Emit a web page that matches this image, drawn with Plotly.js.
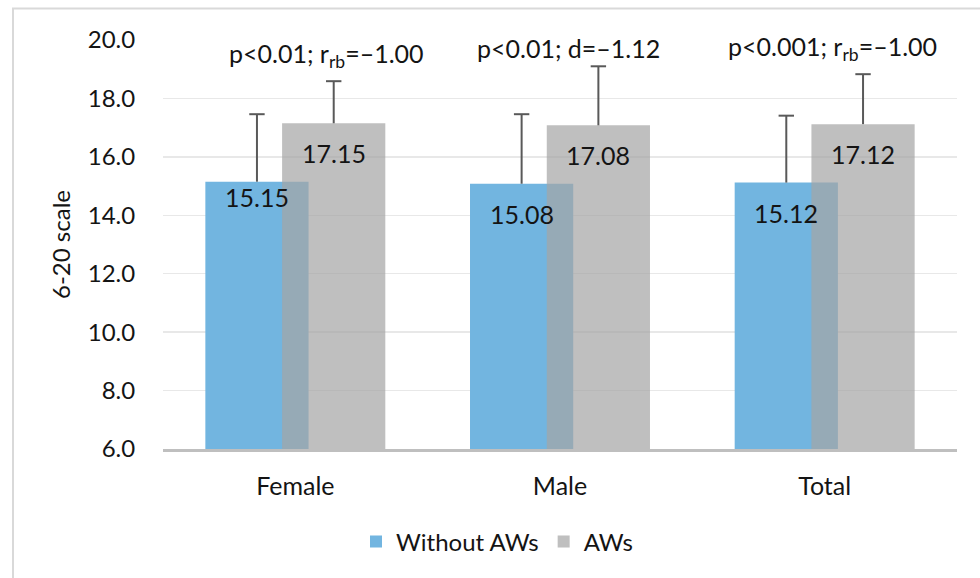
<!DOCTYPE html>
<html>
<head>
<meta charset="utf-8">
<script src="https://cdn.plot.ly/plotly-3.0.1.min.js"></script>
<style>
  html, body { margin: 0; padding: 0; background: #ffffff; }
  #chart { width: 980px; height: 578px; }
</style>
</head>
<body>
<div id="chart"></div>
<script>
// ---- data ----
const categories = ['Female', 'Male', 'Total'];
const withoutAWs = [15.15, 15.08, 15.12];
const withAWs = [17.15, 17.08, 17.12];
const withoutAWsErr = [2.31, 2.38, 2.29];
const withAWsErr = [1.44, 2.02, 1.71];
const seriesNames = ['Without AWs', 'AWs'];
const statLabels = [
  'p<0.01; r<sub>rb</sub>=\u20131.00',
  'p<0.01; d=\u20131.12',
  'p<0.001; r<sub>rb</sub>=\u20131.00'
];
const yTitle = '6-20 scale';

// ---- layout constants ----
const W = 980, H = 578;
const M = { l: 163, r: 23, t: 40, b: 129 };
const plotW = W - M.l - M.r, plotH = H - M.t - M.b;
const barW = 0.39;
const shift = 0.145;
const FONT = 'Lato, "Open Sans", sans-serif';
const TXT = '#141414';
const ERR = '#595959';

const idx = categories.map((c, i) => i);
const xBlue = idx.map(i => i - shift);
const xGray = idx.map(i => i + shift);

const traces = [
  {
    type: 'bar', name: seriesNames[0], x: idx, y: withoutAWs,
    width: barW, offset: -shift - barW / 2,
    marker: { color: 'rgb(114,181,224)', line: { width: 0 } },
    error_y: { type: 'data', symmetric: false, array: withoutAWsErr, arrayminus: withoutAWs.map(() => 0),
               color: ERR, thickness: 2, width: 0 },
    hoverinfo: 'skip'
  },
  {
    type: 'scatter', mode: 'markers', x: xBlue, y: withoutAWs.map((v, i) => v + withoutAWsErr[i]),
    marker: { symbol: 'line-ew', size: 11, line: { color: ERR, width: 2 } },
    showlegend: false, hoverinfo: 'skip', cliponaxis: false
  },
  {
    type: 'bar', name: seriesNames[1], x: idx, y: withAWs,
    width: barW, offset: shift - barW / 2,
    marker: { color: 'rgba(165,165,165,0.71)', line: { width: 0 } },
    error_y: { type: 'data', symmetric: false, array: withAWsErr, arrayminus: withAWs.map(() => 0),
               color: ERR, thickness: 2, width: 0 },
    hoverinfo: 'skip'
  },
  {
    type: 'scatter', mode: 'markers', x: xGray, y: withAWs.map((v, i) => v + withAWsErr[i]),
    marker: { symbol: 'line-ew', size: 11, line: { color: ERR, width: 2 } },
    showlegend: false, hoverinfo: 'skip', cliponaxis: false
  }
];

// value labels
const annotations = [];
const blueShift = [-15, -30, -30];
idx.forEach(i => {
  annotations.push({ x: xBlue[i], y: withoutAWs[i], xref: 'x', yref: 'y', text: withoutAWs[i].toFixed(2),
    showarrow: false, yshift: blueShift[i], font: { family: FONT, size: 25, color: TXT } });
  annotations.push({ x: xGray[i], y: withAWs[i], xref: 'x', yref: 'y', text: withAWs[i].toFixed(2),
    showarrow: false, yshift: -30, font: { family: FONT, size: 25, color: TXT } });
});
// stat labels
const statX = [0.116, 0.031, 0.029];
const statY = [19.47, 19.73, 19.73];
idx.forEach(i => {
  annotations.push({ x: i + statX[i], y: statY[i], xref: 'x', yref: 'y', text: statLabels[i],
    showarrow: false, font: { family: FONT, size: 25, color: TXT } });
});

const px2x = px => (px - M.l) / plotW;
const px2y = py => (H - M.b - py) / plotH;

const layout = {
  width: W, height: H,
  margin: M,
  paper_bgcolor: '#ffffff', plot_bgcolor: '#ffffff',
  barmode: 'overlay',
  showlegend: true,
  font: { family: FONT, color: TXT },
  xaxis: {
    range: [-0.5, 2.5], fixedrange: true,
    tickmode: 'array', tickvals: idx, ticktext: categories,
    showgrid: false, zeroline: false,
    showline: true, linecolor: '#bfbfbf', linewidth: 2.5,
    ticks: 'outside', ticklen: 13, tickcolor: 'rgba(0,0,0,0)',
    tickfont: { family: FONT, size: 25, color: TXT }
  },
  yaxis: {
    range: [6, 20], dtick: 2, tick0: 6, tickformat: '.1f', fixedrange: true,
    showgrid: true, gridcolor: '#e8e8e8', gridwidth: 1.5, zeroline: false,
    showline: false,
    ticks: 'outside', ticklen: 22, tickcolor: 'rgba(0,0,0,0)',
    tickfont: { family: FONT, size: 24, color: TXT },
    title: { text: yTitle, font: { family: FONT, size: 24, color: TXT }, standoff: 10 }
  },
  legend: {
    orientation: 'h', x: px2x(497), xanchor: 'center', y: px2y(542), yanchor: 'middle',
    font: { family: FONT, size: 24, color: TXT }, itemwidth: 30, traceorder: 'normal',
    bgcolor: 'rgba(0,0,0,0)'
  },
  annotations: annotations,
  shapes: [{
    type: 'rect', xref: 'paper', yref: 'paper', layer: 'below',
    x0: px2x(13), x1: px2x(1000), y0: px2y(600), y1: px2y(8.5),
    line: { color: '#d9d9d9', width: 2 }, fillcolor: 'rgba(0,0,0,0)'
  }]
};

Plotly.newPlot('chart', traces, layout, { displayModeBar: false, staticPlot: true });
</script>
</body>
</html>
